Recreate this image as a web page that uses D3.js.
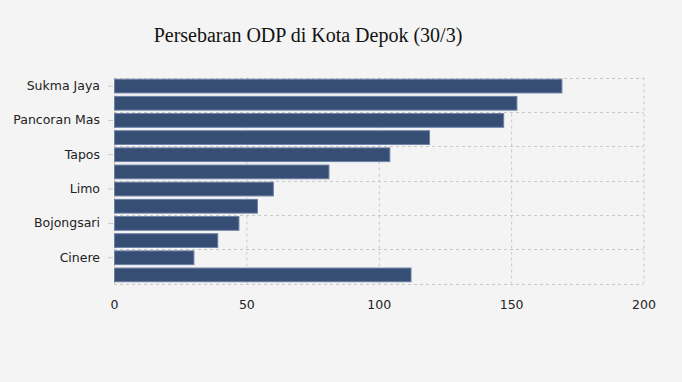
<!DOCTYPE html>
<html><head><meta charset="utf-8">
<script src="https://cdn.jsdelivr.net/npm/d3@7"></script>
<style>
html,body{margin:0;padding:0;background:#f4f4f4;}
svg{display:block;}
</style></head>
<body>
<svg id="chart" width="682" height="382"></svg>
<script>
const title = "Persebaran ODP di Kota Depok (30/3)";
const categories = ["Sukma Jaya","Cimanggis","Pancoran Mas","Beji","Tapos","Sawangan","Limo","Cilodong","Bojongsari","Cipayung","Cinere","Luar Depok"];
const values = [169,152,147,119,104,81,60,54,47,39,30,112];
const shownLabels = ["Sukma Jaya","Pancoran Mas","Tapos","Limo","Bojongsari","Cinere"];
const xTicks = [0,50,100,150,200];

const svg = d3.select("#chart");
const m = {left:114, right:682-643.5, top:77.5, bottom:382-283.5};
const W = 682, H = 382;
const x = d3.scaleLinear().domain([0,200]).range([m.left, W-m.right]);
const y = d3.scaleBand().domain(categories).range([m.top, H-m.bottom]).paddingInner(0.2).paddingOuter(0.1);

svg.append("rect").attr("width",W).attr("height",H).attr("fill","#f4f4f4");

// vertical grid
svg.append("g").selectAll("line").data(xTicks).join("line")
  .attr("x1",d=>x(d)+0.5).attr("x2",d=>x(d)+0.5)
  .attr("y1",m.top).attr("y2",H-m.bottom)
  .attr("stroke","#c8c8c8").attr("stroke-dasharray","3,3");

// horizontal grid at boundaries every 2 categories
const step = y.step();
const hLines = d3.range(0, categories.length+1, 2).map(i => m.top + i*step);
svg.append("g").selectAll("line").data(hLines).join("line")
  .attr("x1",m.left).attr("x2",W-m.right)
  .attr("y1",d=>Math.round(d)+0.5).attr("y2",d=>Math.round(d)+0.5)
  .attr("stroke","#c8c8c8").attr("stroke-dasharray","3,3");

// bars
svg.append("g").selectAll("rect").data(categories).join("rect")
  .attr("x",x(0)+0.5)
  .attr("y",(d)=>y(d))
  .attr("width",(d,i)=>x(values[i])-x(0))
  .attr("height",y.bandwidth())
  .attr("fill","#364d74")
  .attr("stroke","#6d81a6").attr("stroke-width",1);

const font = "'DejaVu Sans',Verdana,sans-serif";
// y axis
const yAxis = d3.axisLeft(y).tickValues(shownLabels).tickSize(5).tickPadding(8);
const gy = svg.append("g").attr("transform",`translate(${m.left-1},0)`).call(yAxis);
gy.select(".domain").remove();
gy.selectAll(".tick line").attr("stroke","#c8c8c8");
gy.selectAll(".tick text").attr("fill","#222").style("font-family",font).style("font-size","12.5px");

// x axis
const xAxis = d3.axisBottom(x).tickValues(xTicks).tickSize(0).tickPadding(17);
const gx = svg.append("g").attr("transform",`translate(0,${H-m.bottom})`).call(xAxis);
gx.select(".domain").remove();
gx.selectAll(".tick text").attr("fill","#222").style("font-family",font).style("font-size","12.5px");

// title
svg.append("text").attr("x",308).attr("y",41.5).attr("text-anchor","middle")
  .style("font-family","'Liberation Serif','Times New Roman',serif").style("font-size","20px")
  .attr("fill","#111").text(title);
</script>
</body></html>
